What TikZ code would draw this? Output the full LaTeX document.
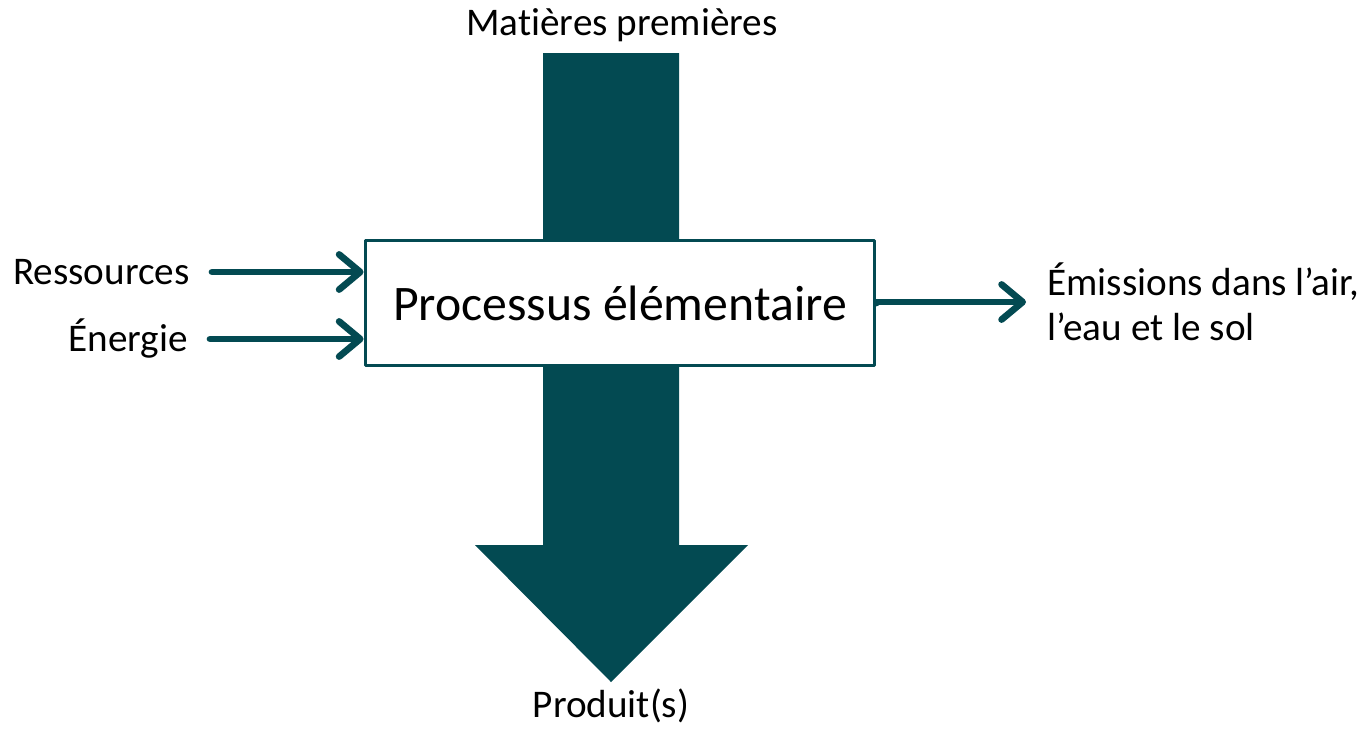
\documentclass[tikz,border=0pt]{standalone}
\usepackage{fontspec}
\setmainfont{Carlito}[Ligatures={NoCommon}]
\usetikzlibrary{arrows.meta}
\definecolor{petrol}{HTML}{034A52}
\begin{document}
\begin{tikzpicture}[x=0.02cm, y=-0.02cm, line cap=round, line join=round]
	\tikzset{lbl/.style={inner sep=0pt, font=\fontsize{22.3}{25.5}\selectfont},
		flow/.style={petrol, line width=3.8pt, -{Straight Barb[length=12pt,width=20pt,round]}}}
	\useasboundingbox (0,0) rectangle (1367,728);
	% big material flow, drawn under the box
	\fill[petrol] (543,53) -- (679,53) -- (679,545) -- (748,545) -- (611,682)
		-- (475,545) -- (543,545) -- cycle;
	\node[draw=petrol, line width=1.7pt, fill=white, minimum width=10.2cm, minimum height=2.5cm,
		font=\fontsize{28.3}{32}\selectfont] (proc) at (620,303) {Processus élémentaire};
	\node[lbl] (mat) at (622,25) {Matières premières};
	\node[lbl] (prod) at (611,706) {Produit(s)};
	\node[lbl, anchor=east] (res) at (190,272) {Ressources};
	\node[lbl, anchor=east] (ener) at (188,339) {Énergie};
	\node[lbl, anchor=west, align=left] (emi) at (1047,302) {Émissions dans l’air,\\l’eau et le sol};
	\foreach \n in {res,ener} \draw[flow, shorten <=0.44cm] (\n.east) -- (\n.east -| proc.west);
	\draw[flow, shorten >=0.42cm] (proc.east) -- (emi.west -| proc.east) -- (emi.west);
\end{tikzpicture}
\end{document}
